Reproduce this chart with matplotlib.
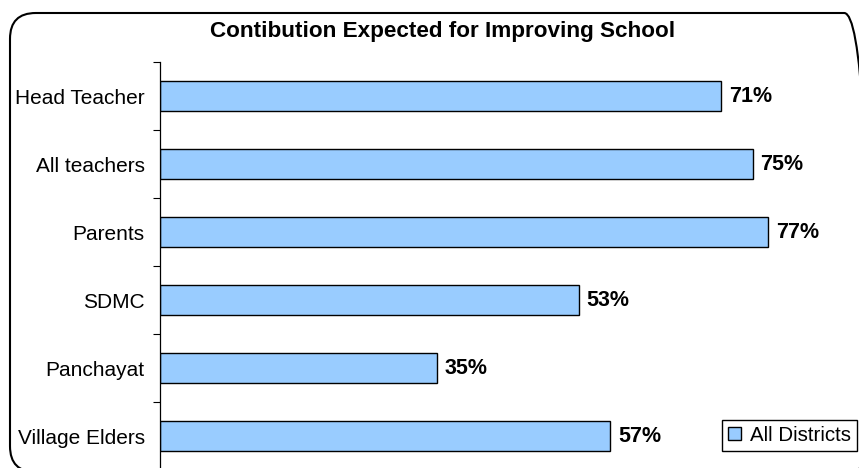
import matplotlib
matplotlib.use("Agg")
from matplotlib import pyplot as plt
from matplotlib.patches import FancyBboxPatch, Patch

categories = ["Head Teacher", "All teachers", "Parents", "SDMC", "Panchayat", "Village Elders"]
values = [71, 75, 77, 53, 35, 57]
series_name = "All Districts"
title = "Contibution Expected for Improving School"

plt.rcParams['font.family'] = ['Liberation Sans', 'DejaVu Sans']

W, H = 859, 468
fig = plt.figure(figsize=(W / 100, H / 100), dpi=100)

# rounded chart-area border, partly running off the right/bottom edge
frame = FancyBboxPatch((10 / W, 1 - 472 / H), 860 / W, 459 / H,
                       boxstyle="round,pad=0,rounding_size=0.03",
                       transform=fig.transFigure, fill=False,
                       edgecolor='black', linewidth=1.5,
                       mutation_aspect=W / H)
fig.patches.append(frame)

ax = fig.add_axes([160 / W, 1 - 470 / H, 698 / W, 408 / H])
pos = list(range(len(categories)))
ax.barh(pos, values, height=0.43, color='#99CCFF', edgecolor='black', linewidth=1)
ax.set_ylim(len(categories) - 0.5, -0.5)
ax.set_xlim(0, 698 / 7.9)

for p, v in zip(pos, values):
    ax.text(v + 1.0, p, f"{v}%", va='center', ha='left', fontsize=15.5, fontweight='bold')

ax.set_yticks(pos)
ax.set_yticklabels(categories, fontsize=15)
ax.tick_params(axis='y', which='major', length=0, pad=11)
ax.set_yticks([i - 0.5 for i in range(len(categories) + 1)], minor=True)
ax.tick_params(axis='y', which='minor', length=5, width=0.8, direction='out')
ax.set_xticks([])
for s in ['top', 'right', 'bottom']:
    ax.spines[s].set_visible(False)
ax.spines['left'].set_linewidth(0.9)
ax.patch.set_alpha(0)

fig.text(443 / W, 1 - 32 / H, title, ha='center', va='center', fontsize=16.2, fontweight='bold')

handle = Patch(facecolor='#99CCFF', edgecolor='black', linewidth=1)
fig.legend([handle], [series_name], loc='lower right',
           bbox_to_anchor=(857 / W, 1 - 451 / H), bbox_transform=fig.transFigure,
           fontsize=14.8, fancybox=False, edgecolor='black', framealpha=1,
           handlelength=0.6, handleheight=0.6, handletextpad=0.45,
           borderpad=0.3, borderaxespad=0)

fig.savefig("out.png", dpi=100)
